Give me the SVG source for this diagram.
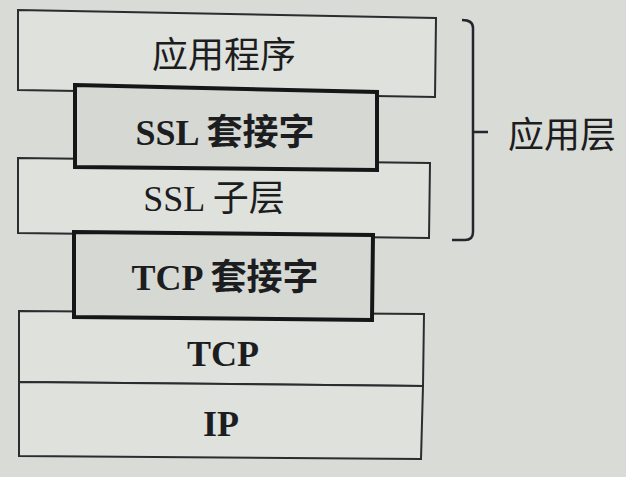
<svg xmlns="http://www.w3.org/2000/svg" width="626" height="477" viewBox="0 0 626 477">
<style>
.layer{fill:#dfe1dc;stroke:#2a2c2e;stroke-width:2}
.sock{fill:#d6d8d3;stroke:#151618;stroke-width:4}
.t{font-family:"Liberation Serif","Noto Sans CJK SC",serif;font-size:36px;fill:#1c1d20;text-anchor:middle}
.b{font-weight:bold}
.br{fill:none;stroke:#23262c;stroke-width:2.5}
</style>
<rect width="626" height="477" fill="#d9dbd6"/>
<g id="app">
<polygon class="layer" points="18,10 436,18 435,97 18,90"/>
<text class="t" x="224" y="68">应用程序</text>
</g>
<g id="ssl-sublayer">
<polygon class="layer" points="18,158 430,163 429,238 18,233"/>
<text class="t" x="214" y="211">SSL 子层</text>
</g>
<g id="ssl-socket">
<polygon class="sock" points="75,85 377,92 377,170 75,167"/>
<text class="t b" x="225" y="145">SSL 套接字</text>
</g>
<g id="tcp">
<polygon class="layer" points="19,311 424,314 423,386 19,382"/>
<text class="t b" x="223" y="366">TCP</text>
</g>
<g id="ip">
<polygon class="layer" points="19,382 423,386 421,459 19,456"/>
<text class="t b" x="221" y="436">IP</text>
</g>
<g id="tcp-socket">
<polygon class="sock" points="74,232 373,235 372,320 74,317"/>
<text class="t b" x="225" y="290">TCP 套接字</text>
</g>
<g id="connectors">
<path class="br" d="M462,20 Q473,20 473,28 L473,232 Q473,240 465,240 L452,240 M473,132 L488,132"/>
</g>
<g id="app-layer-label">
<text class="t" x="562" y="148">应用层</text>
</g>
</svg>
